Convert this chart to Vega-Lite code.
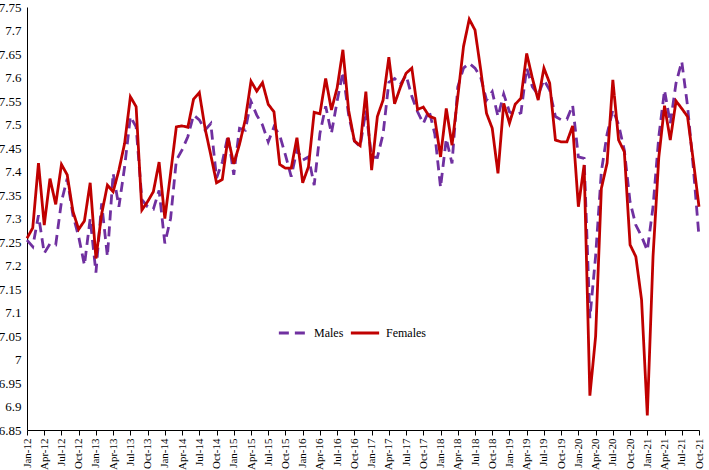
{
  "$schema": "https://vega.github.io/schema/vega-lite/v6.json",
  "width": 672,
  "height": 423,
  "autosize": {"type": "none"},
  "padding": {"left": 27, "top": 7, "right": 10, "bottom": 40},
  "background": "white",
  "config": {"view": {"stroke": null}, "font": "Liberation Serif"},
  "data": {"values": [
    {"m":"Jan-12","Males":7.254,"Females":7.258},
    {"m":"Feb-12","Males":7.24,"Females":7.28},
    {"m":"Mar-12","Males":7.307,"Females":7.418},
    {"m":"Apr-12","Males":7.226,"Females":7.286},
    {"m":"May-12","Males":7.246,"Females":7.385},
    {"m":"Jun-12","Males":7.244,"Females":7.33},
    {"m":"Jul-12","Males":7.336,"Females":7.415},
    {"m":"Aug-12","Males":7.385,"Females":7.393},
    {"m":"Sep-12","Males":7.307,"Females":7.315},
    {"m":"Oct-12","Males":7.261,"Females":7.277},
    {"m":"Nov-12","Males":7.201,"Females":7.295},
    {"m":"Dec-12","Males":7.30,"Females":7.376},
    {"m":"Jan-13","Males":7.185,"Females":7.215},
    {"m":"Feb-13","Males":7.332,"Females":7.31},
    {"m":"Mar-13","Males":7.219,"Females":7.371},
    {"m":"Apr-13","Males":7.396,"Females":7.357},
    {"m":"May-13","Males":7.325,"Females":7.403},
    {"m":"Jun-13","Males":7.41,"Females":7.46},
    {"m":"Jul-13","Males":7.517,"Females":7.559},
    {"m":"Aug-13","Males":7.495,"Females":7.538},
    {"m":"Sep-13","Males":7.34,"Females":7.318},
    {"m":"Oct-13","Males":7.325,"Females":7.336},
    {"m":"Nov-13","Males":7.32,"Females":7.357},
    {"m":"Dec-13","Males":7.36,"Females":7.42},
    {"m":"Jan-14","Males":7.247,"Females":7.30},
    {"m":"Feb-14","Males":7.30,"Females":7.396},
    {"m":"Mar-14","Males":7.424,"Females":7.495},
    {"m":"Apr-14","Males":7.446,"Females":7.497},
    {"m":"May-14","Males":7.474,"Females":7.494},
    {"m":"Jun-14","Males":7.52,"Females":7.554},
    {"m":"Jul-14","Males":7.51,"Females":7.568},
    {"m":"Aug-14","Males":7.488,"Females":7.492},
    {"m":"Sep-14","Males":7.502,"Females":7.435},
    {"m":"Oct-14","Males":7.386,"Females":7.376},
    {"m":"Nov-14","Males":7.42,"Females":7.383},
    {"m":"Dec-14","Males":7.477,"Females":7.472},
    {"m":"Jan-15","Males":7.393,"Females":7.416},
    {"m":"Feb-15","Males":7.492,"Females":7.458},
    {"m":"Mar-15","Males":7.488,"Females":7.51},
    {"m":"Apr-15","Males":7.549,"Females":7.592},
    {"m":"May-15","Males":7.52,"Females":7.571},
    {"m":"Jun-15","Males":7.499,"Females":7.589},
    {"m":"Jul-15","Males":7.463,"Females":7.543},
    {"m":"Aug-15","Males":7.495,"Females":7.527},
    {"m":"Sep-15","Males":7.477,"Females":7.415},
    {"m":"Oct-15","Males":7.435,"Females":7.407},
    {"m":"Nov-15","Males":7.389,"Females":7.407},
    {"m":"Dec-15","Males":7.446,"Females":7.472},
    {"m":"Jan-16","Males":7.424,"Females":7.376},
    {"m":"Feb-16","Males":7.431,"Females":7.41},
    {"m":"Mar-16","Males":7.371,"Females":7.526},
    {"m":"Apr-16","Males":7.481,"Females":7.523},
    {"m":"May-16","Males":7.539,"Females":7.598},
    {"m":"Jun-16","Males":7.481,"Females":7.531},
    {"m":"Jul-16","Males":7.55,"Females":7.578},
    {"m":"Aug-16","Males":7.612,"Females":7.659},
    {"m":"Sep-16","Males":7.52,"Females":7.53},
    {"m":"Oct-16","Males":7.465,"Females":7.465},
    {"m":"Nov-16","Males":7.453,"Females":7.455},
    {"m":"Dec-16","Males":7.53,"Females":7.57},
    {"m":"Jan-17","Males":7.431,"Females":7.403},
    {"m":"Feb-17","Males":7.43,"Females":7.517},
    {"m":"Mar-17","Males":7.48,"Females":7.552},
    {"m":"Apr-17","Males":7.59,"Females":7.643},
    {"m":"May-17","Males":7.598,"Females":7.544},
    {"m":"Jun-17","Males":7.585,"Females":7.579},
    {"m":"Jul-17","Males":7.605,"Females":7.609},
    {"m":"Aug-17","Males":7.56,"Females":7.62},
    {"m":"Sep-17","Males":7.527,"Females":7.532},
    {"m":"Oct-17","Males":7.502,"Females":7.537},
    {"m":"Nov-17","Males":7.53,"Females":7.518},
    {"m":"Dec-17","Males":7.48,"Females":7.513},
    {"m":"Jan-18","Males":7.366,"Females":7.431},
    {"m":"Feb-18","Males":7.47,"Females":7.534},
    {"m":"Mar-18","Males":7.417,"Females":7.456},
    {"m":"Apr-18","Males":7.58,"Females":7.559},
    {"m":"May-18","Males":7.62,"Females":7.666},
    {"m":"Jun-18","Males":7.63,"Females":7.724},
    {"m":"Jul-18","Males":7.62,"Females":7.701},
    {"m":"Aug-18","Males":7.60,"Females":7.616},
    {"m":"Sep-18","Males":7.552,"Females":7.524},
    {"m":"Oct-18","Males":7.57,"Females":7.492},
    {"m":"Nov-18","Males":7.517,"Females":7.396},
    {"m":"Dec-18","Males":7.565,"Females":7.545},
    {"m":"Jan-19","Males":7.527,"Females":7.503},
    {"m":"Feb-19","Males":7.52,"Females":7.543},
    {"m":"Mar-19","Males":7.525,"Females":7.556},
    {"m":"Apr-19","Males":7.62,"Females":7.651},
    {"m":"May-19","Males":7.58,"Females":7.598},
    {"m":"Jun-19","Males":7.563,"Females":7.552},
    {"m":"Jul-19","Males":7.595,"Females":7.62},
    {"m":"Aug-19","Males":7.573,"Females":7.588},
    {"m":"Sep-19","Males":7.517,"Females":7.467},
    {"m":"Oct-19","Males":7.51,"Females":7.463},
    {"m":"Nov-19","Males":7.511,"Females":7.463},
    {"m":"Dec-19","Males":7.541,"Females":7.497},
    {"m":"Jan-20","Males":7.431,"Females":7.325},
    {"m":"Feb-20","Males":7.428,"Females":7.414},
    {"m":"Mar-20","Males":7.088,"Females":6.923},
    {"m":"Apr-20","Males":7.22,"Females":7.049},
    {"m":"May-20","Males":7.40,"Females":7.364},
    {"m":"Jun-20","Males":7.48,"Females":7.418},
    {"m":"Jul-20","Males":7.531,"Females":7.595},
    {"m":"Aug-20","Males":7.50,"Females":7.467},
    {"m":"Sep-20","Males":7.445,"Females":7.442},
    {"m":"Oct-20","Males":7.335,"Females":7.244},
    {"m":"Nov-20","Males":7.286,"Females":7.219},
    {"m":"Dec-20","Males":7.262,"Females":7.127},
    {"m":"Jan-21","Males":7.232,"Females":6.881},
    {"m":"Feb-21","Males":7.325,"Females":7.22},
    {"m":"Mar-21","Males":7.474,"Females":7.43},
    {"m":"Apr-21","Males":7.573,"Females":7.54},
    {"m":"May-21","Males":7.502,"Females":7.467},
    {"m":"Jun-21","Males":7.588,"Females":7.55},
    {"m":"Jul-21","Males":7.634,"Females":7.534},
    {"m":"Aug-21","Males":7.54,"Females":7.517},
    {"m":"Sep-21","Males":7.41,"Females":7.424},
    {"m":"Oct-21","Males":7.261,"Females":7.325}
  ]},
  "transform": [{"fold": ["Males", "Females"], "as": ["series", "value"]}],
  "mark": {"type": "line", "strokeWidth": 2.8},
  "encoding": {
    "x": {
      "field": "m", "type": "ordinal", "sort": null,
      "scale": {"type": "point", "padding": 0},
      "axis": {
        "title": null,
        "values": ["Jan-12","Apr-12","Jul-12","Oct-12","Jan-13","Apr-13","Jul-13","Oct-13","Jan-14","Apr-14","Jul-14","Oct-14","Jan-15","Apr-15","Jul-15","Oct-15","Jan-16","Apr-16","Jul-16","Oct-16","Jan-17","Apr-17","Jul-17","Oct-17","Jan-18","Apr-18","Jul-18","Oct-18","Jan-19","Apr-19","Jul-19","Oct-19","Jan-20","Apr-20","Jul-20","Oct-20","Jan-21","Apr-21","Jul-21","Oct-21"],
        "labelAngle": -90,
        "labelFontSize": 11,
        "labelFont": "Liberation Serif",
        "labelColor": "#000",
        "labelOverlap": false,
        "domainColor": "#000",
        "tickColor": "#000",
        "tickSize": 5,
        "labelPadding": 3,
        "grid": false
      }
    },
    "y": {
      "field": "value", "type": "quantitative",
      "scale": {"domain": [6.85, 7.75], "nice": false, "zero": false},
      "axis": {
        "title": null,
        "values": [6.85,6.9,6.95,7,7.05,7.1,7.15,7.2,7.25,7.3,7.35,7.4,7.45,7.5,7.55,7.6,7.65,7.7,7.75],
        "format": "~g",
        "ticks": false,
        "labelPadding": 6,
        "labelFontSize": 13,
        "labelFont": "Liberation Serif",
        "labelColor": "#000",
        "labelOverlap": false,
        "labelFlush": false,
        "domainColor": "#000",
        "grid": false
      }
    },
    "color": {
      "field": "series", "type": "nominal",
      "scale": {"domain": ["Males", "Females"], "range": ["#7030A0", "#C00000"]},
      "legend": {"orient": "none", "legendX": 250, "legendY": 310, "direction": "horizontal", "gridAlign": "each", "title": null, "symbolType": "stroke", "symbolSize": 800, "symbolStrokeWidth": 3, "labelFontSize": 12, "labelFont": "Liberation Serif", "labelColor": "#000", "labelOffset": 5, "columnPadding": 0}
    },
    "strokeDash": {
      "field": "series", "type": "nominal",
      "scale": {"domain": ["Males", "Females"], "range": [[10, 6], [1, 0]]},
      "legend": {"orient": "none", "legendX": 250, "legendY": 310, "direction": "horizontal", "gridAlign": "each", "title": null, "symbolType": "stroke", "symbolSize": 800, "symbolStrokeWidth": 3, "labelFontSize": 12, "labelFont": "Liberation Serif", "labelColor": "#000", "labelOffset": 5, "columnPadding": 0}
    }
  }
}
